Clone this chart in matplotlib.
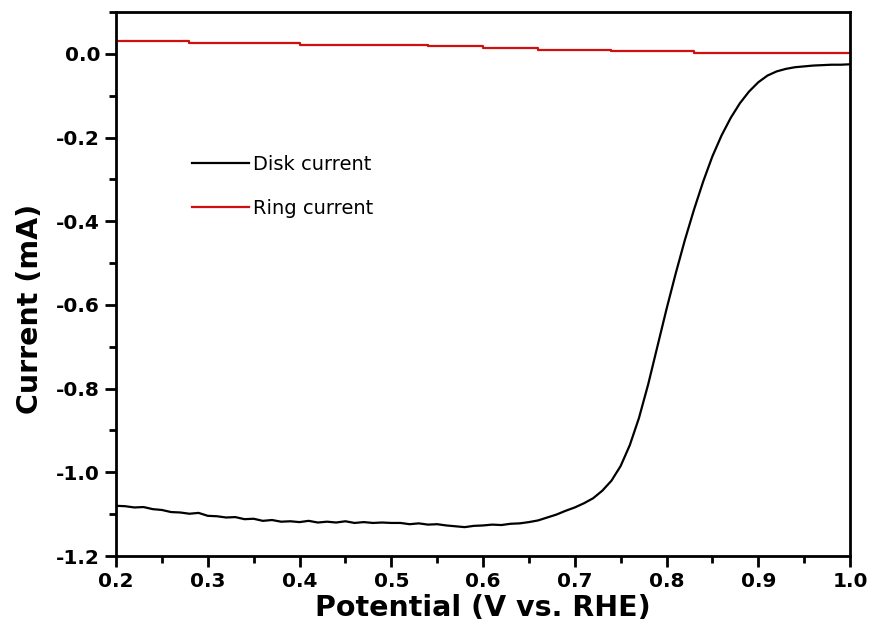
import numpy as np
import matplotlib.pyplot as plt
from matplotlib.ticker import MultipleLocator

# disk current (mA) vs potential (V vs RHE)
pot = [0.20, 0.21, 0.22, 0.23, 0.24, 0.25, 0.26, 0.27, 0.28, 0.29,
       0.30, 0.31, 0.32, 0.33, 0.34, 0.35, 0.36, 0.37, 0.38, 0.39,
       0.40, 0.41, 0.42, 0.43, 0.44, 0.45, 0.46, 0.47, 0.48, 0.49,
       0.50, 0.51, 0.52, 0.53, 0.54, 0.55, 0.56, 0.57, 0.58, 0.59,
       0.60, 0.61, 0.62, 0.63, 0.64, 0.65, 0.66, 0.67, 0.68, 0.69,
       0.70, 0.71, 0.72, 0.73, 0.74, 0.75, 0.76, 0.77, 0.78, 0.79,
       0.80, 0.81, 0.82, 0.83, 0.84, 0.85, 0.86, 0.87, 0.88, 0.89,
       0.90, 0.91, 0.92, 0.93, 0.94, 0.95, 0.96, 0.97, 0.98, 0.99, 1.00]
disk = [-1.080, -1.081, -1.084, -1.083, -1.088, -1.090, -1.095, -1.096, -1.099, -1.097,
        -1.104, -1.105, -1.108, -1.107, -1.112, -1.111, -1.116, -1.114, -1.118, -1.117,
        -1.119, -1.116, -1.120, -1.118, -1.120, -1.117, -1.121, -1.119, -1.121, -1.120,
        -1.121, -1.121, -1.124, -1.122, -1.125, -1.124, -1.127, -1.129, -1.131, -1.128,
        -1.127, -1.125, -1.126, -1.123, -1.122, -1.119, -1.115, -1.108, -1.101, -1.092,
        -1.084, -1.074, -1.062, -1.044, -1.020, -0.985, -0.935, -0.870, -0.790, -0.700,
        -0.610, -0.525, -0.445, -0.372, -0.305, -0.245, -0.195, -0.153, -0.118, -0.090,
        -0.068, -0.052, -0.042, -0.036, -0.032, -0.030, -0.028, -0.027, -0.026, -0.026, -0.025]

# ring current, stepwise
ring_pot = [0.20, 0.28, 0.40, 0.54, 0.60, 0.66, 0.74, 0.83, 1.00]
ring = [0.030, 0.026, 0.022, 0.019, 0.015, 0.010, 0.006, 0.001, 0.001]

plt.rcParams['font.family'] = 'DejaVu Sans'

fig = plt.figure(figsize=(8.71, 6.41), dpi=100)
ax = fig.add_axes([0.1332, 0.1326, 0.8427, 0.8487])

ax.plot(pot, disk, color='black', lw=1.6, label='Disk current')
ax.plot(ring_pot, ring, color='#d01010', lw=1.6, drawstyle='steps-post', label='Ring current')

ax.set_xlim(0.2, 1.0)
ax.set_ylim(-1.2, 0.1)
ax.xaxis.set_major_locator(MultipleLocator(0.1))
ax.xaxis.set_minor_locator(MultipleLocator(0.05))
ax.yaxis.set_major_locator(MultipleLocator(0.2))
ax.yaxis.set_minor_locator(MultipleLocator(0.1))
ax.xaxis.set_major_formatter(plt.FuncFormatter(lambda v, p: f'{v:.1f}'))
ax.yaxis.set_major_formatter(plt.FuncFormatter(lambda v, p: f'{v:.1f}'))

ax.tick_params(which='both', direction='out', width=2, top=False, right=False, labelsize=14.5)
ax.tick_params(which='major', length=8)
ax.tick_params(which='minor', length=5)
for lab in ax.get_xticklabels() + ax.get_yticklabels():
    lab.set_fontweight('bold')
for s in ax.spines.values():
    s.set_linewidth(2)

ax.set_xlabel('Potential (V vs. RHE)', fontsize=20.5, fontweight='bold', labelpad=2)
ax.set_ylabel('Current (mA)', fontsize=20.5, fontweight='bold')
ax.yaxis.set_label_coords(-0.098, 0.455)

ax.legend(loc='upper left', bbox_to_anchor=(0.08, 0.77), frameon=False,
          fontsize=14, handlelength=2.9, handletextpad=0.2, labelspacing=1.3)

fig.savefig('out.png', dpi=100)
